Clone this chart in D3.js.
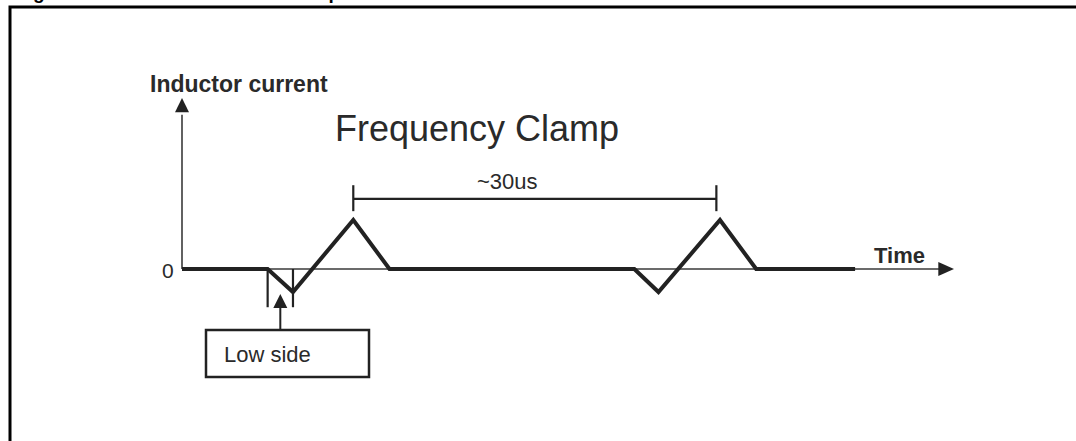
<!DOCTYPE html>
<html>
<head>
<meta charset="utf-8">
<script src="https://cdn.jsdelivr.net/npm/d3@7"></script>
<style>
  body { margin: 0; background: #fff; }
  text { font-family: "Liberation Sans", Arial, sans-serif; }
</style>
</head>
<body>
<svg id="drawing_region"></svg>
<script>
var width = 1076;
var height = 441;

// waveform: time (us) vs inductor current (normalised to the peak)
const times   = [0, 7.1, 9.2, 14.2, 17.2, 37.5, 39.5, 44.6, 47.6, 55.8];
const current = [0, 0, -0.47, 1, 0, 0, -0.47, 1, 0, 0];

// "~30us" bracket between the two peaks
const bracketTimes = [14.2, 44.3];
const bracketLabel = "~30us";

// low side window (start / end of the negative part)
const lowSideTimes = [7.1, 9.2];

const titleText = "Figure 18. Inductor current in clamp";

var svg = d3.select('#drawing_region')
      .attr('width', width)
      .attr('height', height);

const xscale = d3.scaleLinear()
      .domain([0, 64])
      .range([182, 954]);

const yscale = d3.scaleLinear()
      .domain([0, 1])
      .range([269, 220]);

const data = times.map((t, i) => ({t: t, i: current[i]}));

// frame (only top and left edges are visible)
svg.append('path')
      .attr('d', `M10,${height} L10,7 L${width},7`)
      .attr('stroke', '#000')
      .attr('stroke-width', 3)
      .attr('fill', 'none');

// cut-off caption above the frame
svg.append('text')
      .attr('x', 16)
      .attr('y', -1)
      .attr('font-size', 19)
      .attr('font-weight', 'bold')
      .attr('fill', '#000')
      .text(titleText);

const axisColor = '#3a3a3a';
const x0 = xscale(0), y0 = yscale(0);

// time axis
svg.append('line')
      .attr('x1', x0).attr('y1', y0)
      .attr('x2', xscale(62.8)).attr('y2', y0)
      .attr('stroke', axisColor)
      .attr('stroke-width', 1.6);
svg.append('path')
      .attr('d', `M${xscale(62.7)},${y0 - 7} L${xscale(64)},${y0} L${xscale(62.7)},${y0 + 7} Z`)
      .attr('fill', '#222');

// current axis
svg.append('line')
      .attr('x1', x0).attr('y1', y0)
      .attr('x2', x0).attr('y2', yscale(3.15))
      .attr('stroke', axisColor)
      .attr('stroke-width', 1.6);
svg.append('path')
      .attr('d', `M${x0 - 7},${yscale(3.2)} L${x0},${yscale(3.49)} L${x0 + 7},${yscale(3.2)} Z`)
      .attr('fill', '#222');

// waveform
const line = d3.line()
      .x(d => xscale(d.t))
      .y(d => yscale(d.i));

svg.append('path')
      .attr('d', line(data))
      .attr('stroke', '#222')
      .attr('stroke-width', 4)
      .attr('stroke-linejoin', 'miter')
      .attr('fill', 'none');

// bracket
const by = yscale(1.43);
svg.append('line')
      .attr('x1', xscale(bracketTimes[0])).attr('y1', by)
      .attr('x2', xscale(bracketTimes[1])).attr('y2', by)
      .attr('stroke', '#222')
      .attr('stroke-width', 2.2);
bracketTimes.forEach(t => {
  svg.append('line')
        .attr('x1', xscale(t)).attr('y1', yscale(1.18))
        .attr('x2', xscale(t)).attr('y2', yscale(1.71))
        .attr('stroke', '#222')
        .attr('stroke-width', 2.2);
});
svg.append('text')
      .attr('x', 477)
      .attr('y', 189)
      .attr('font-size', 22)
      .attr('fill', '#2a2a2a')
      .text(bracketLabel);

// low side markers
lowSideTimes.forEach(t => {
  svg.append('line')
        .attr('x1', xscale(t)).attr('y1', y0)
        .attr('x2', xscale(t)).attr('y2', yscale(-0.78))
        .attr('stroke', '#222')
        .attr('stroke-width', 2.2);
});
const ax = xscale((lowSideTimes[0] + lowSideTimes[1]) / 2);
svg.append('path')
      .attr('d', `M${ax - 7},308 L${ax},294 L${ax + 7},308 Z`)
      .attr('fill', '#222');
svg.append('line')
      .attr('x1', ax).attr('y1', 306)
      .attr('x2', ax).attr('y2', 330)
      .attr('stroke', '#222')
      .attr('stroke-width', 2);

svg.append('rect')
      .attr('x', 206).attr('y', 330)
      .attr('width', 163).attr('height', 47)
      .attr('stroke', '#222')
      .attr('stroke-width', 2.5)
      .attr('fill', 'none');
svg.append('text')
      .attr('x', 224)
      .attr('y', 362)
      .attr('font-size', 22)
      .attr('fill', '#2a2a2a')
      .text('Low side');

// labels
svg.append('text')
      .attr('x', 150)
      .attr('y', 92)
      .attr('font-size', 23)
      .attr('font-weight', 'bold')
      .attr('fill', '#2a2a2a')
      .text('Inductor current');

svg.append('text')
      .attr('x', 335)
      .attr('y', 141)
      .attr('font-size', 36)
      .attr('fill', '#2a2a2a')
      .text('Frequency Clamp');

svg.append('text')
      .attr('x', 162)
      .attr('y', 278)
      .attr('font-size', 21)
      .attr('fill', '#2a2a2a')
      .text('0');

svg.append('text')
      .attr('x', 874)
      .attr('y', 263)
      .attr('font-size', 22)
      .attr('font-weight', 'bold')
      .attr('fill', '#2a2a2a')
      .text('Time');
</script>
</body>
</html>
